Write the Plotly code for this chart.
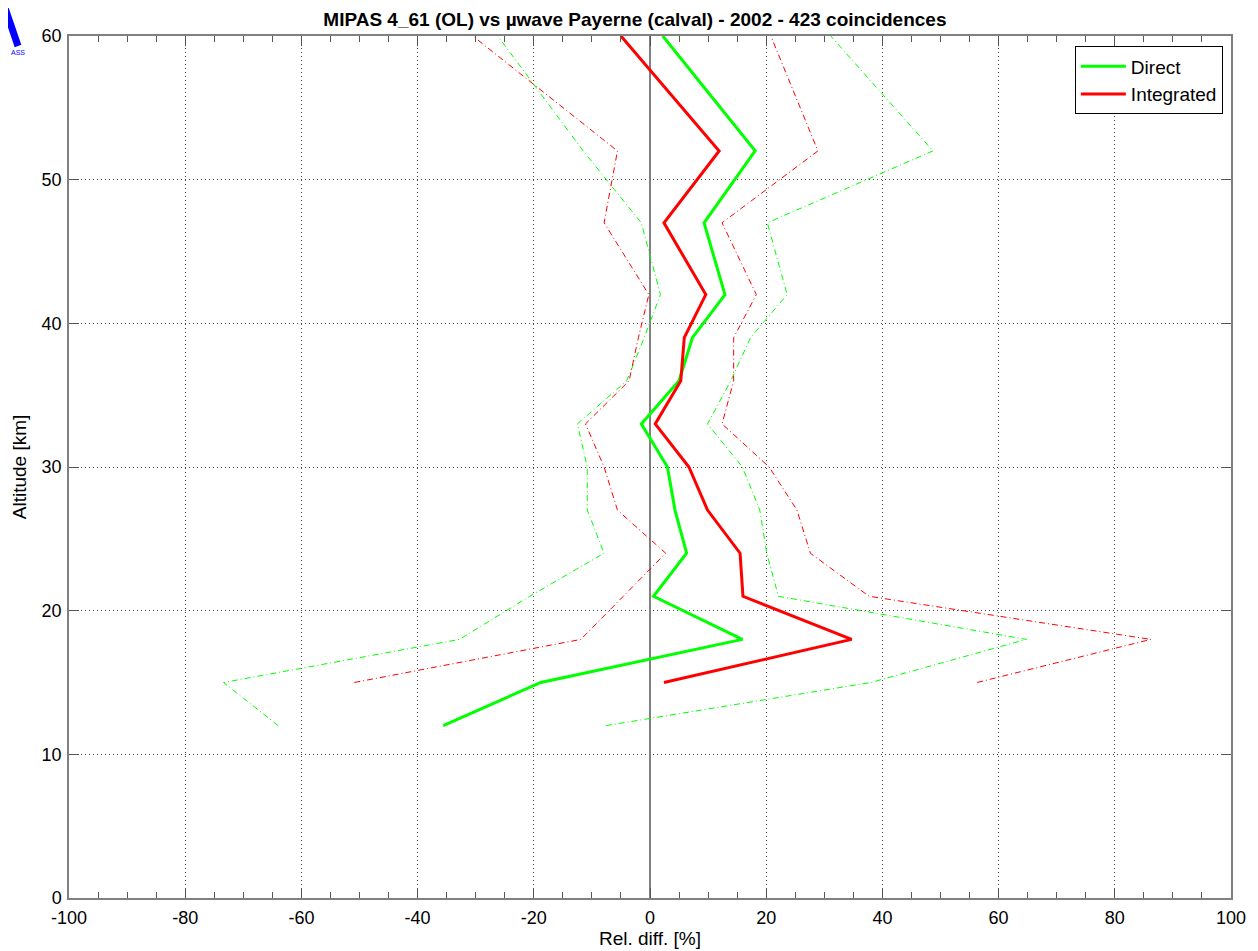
import plotly.graph_objects as go

# Altitude levels [km]
altitude = [12, 15, 18, 21, 24, 27, 30, 33, 36, 39, 42, 47, 52, 60]

# Direct comparison (mean and spread bounds), relative difference [%]
direct_mean = [-35.6, -18.8, 15.9, 0.6, 6.3, 4.3, 3.0, -1.5, 5.0, 7.3, 12.9, 9.3, 18.1, 2.2]
direct_low = [-64.0, -73.4, -32.8, -20.7, -7.9, -10.8, -10.8, -12.5, -4.0, -1.0, 1.8, -1.5, -11.5, -26.2]
direct_high = [-7.6, 38.0, 64.8, 22.1, 20.1, 18.9, 15.9, 9.9, 13.9, 17.3, 23.6, 20.2, 48.7, 31.1]

# Integrated comparison (starts at 15 km)
integ_mean = [None, 2.4, 34.7, 16.0, 15.5, 9.9, 6.7, 0.9, 5.3, 5.9, 9.6, 2.4, 11.9, -5.0]
integ_low = [None, -50.9, -11.9, -4.6, 2.7, -5.6, -7.9, -11.1, -3.6, -2.0, -0.2, -7.9, -5.6, -30.5]
integ_high = [None, 56.3, 86.2, 37.7, 27.6, 25.3, 20.5, 12.4, 14.4, 14.4, 18.3, 12.4, 28.9, 20.8]

x_ticks = [-100, -80, -60, -40, -20, 0, 20, 40, 60, 80, 100]
y_ticks = [0, 10, 20, 30, 40, 50, 60]

GREEN = "#00ff00"
RED = "#ff0000"
FONT = "Liberation Sans, Arial, sans-serif"

fig = go.Figure()

for vals, col in [(direct_low, GREEN), (direct_high, GREEN), (integ_low, RED), (integ_high, RED)]:
    fig.add_trace(go.Scatter(x=vals, y=altitude, mode="lines", showlegend=False,
                             line=dict(color=col, width=1, dash="6px,3px,1px,3px"),
                             hoverinfo="skip"))

fig.add_trace(go.Scatter(x=direct_mean, y=altitude, mode="lines", name="Direct",
                         line=dict(color=GREEN, width=3)))
fig.add_trace(go.Scatter(x=integ_mean, y=altitude, mode="lines", name="Integrated",
                         line=dict(color=RED, width=3)))

axis_common = dict(
    showline=True, linecolor="#808080", linewidth=1.5, mirror="ticks",
    ticks="inside", ticklen=10, tickcolor="#555555", tickwidth=1,
    showgrid=True, gridcolor="#444444", griddash="1px,3px", gridwidth=1,
    tickfont=dict(family=FONT, size=18, color="black"),
    automargin=False,
)

fig.update_xaxes(
    range=[-100, 100], tickvals=x_ticks, ticktext=[str(v) for v in x_ticks], **axis_common,
    zeroline=True, zerolinecolor="#808080", zerolinewidth=1.5,
    ticklabelstandoff=3,
    minor=dict(ticks="inside", ticklen=6, dtick=5, tick0=0, tickcolor="#555555", showgrid=False),
    title=dict(text="Rel. diff. [%]", font=dict(family=FONT, size=19, color="black"), standoff=3),
)
fig.update_yaxes(
    range=[0, 60], tickvals=y_ticks, ticktext=[str(v) for v in y_ticks], **axis_common, zeroline=False,
    ticklabelstandoff=2,
    title=dict(text="Altitude [km]", font=dict(family=FONT, size=19, color="black"), standoff=10),
)

# page body has an 8px margin, so the figure is offset by 8px
fig.update_layout(
    width=1250, height=943,
    paper_bgcolor="white", plot_bgcolor="white",
    margin=dict(l=61, r=27, t=28, b=53, autoexpand=False),
    title=dict(text="<b>MIPAS 4_61 (OL) vs µwave Payerne (calval) - 2002 - 423 coincidences</b>",
               x=0.487, xanchor="center", xref="paper",
               y=1 - 11 / 943, yref="container", yanchor="middle",
               font=dict(family=FONT, size=19, color="black")),
    legend=dict(x=0.993, y=0.988, xanchor="right", yanchor="top",
                bgcolor="white", bordercolor="black", borderwidth=1,
                font=dict(family=FONT, size=19, color="black"),
                tracegroupgap=0, itemwidth=45),
    showlegend=True,
)

# partial logo in the top-left corner (decoration)
fig.add_shape(type="line", xref="paper", yref="paper",
              x0=(-4 - 61) / 1162, y0=1 + (28 + 3) / 862,
              x1=(10 - 61) / 1162, y1=1 + (28 - 38) / 862,
              line=dict(color="#0000ff", width=7))
fig.add_annotation(text="ASS", xref="paper", yref="paper",
                   x=(1 - 61) / 1162, y=1 + (28 - 45) / 862, xanchor="left", yanchor="middle",
                   showarrow=False, font=dict(family=FONT, size=7, color="#0000ff"))

fig.write_html("out.html")
